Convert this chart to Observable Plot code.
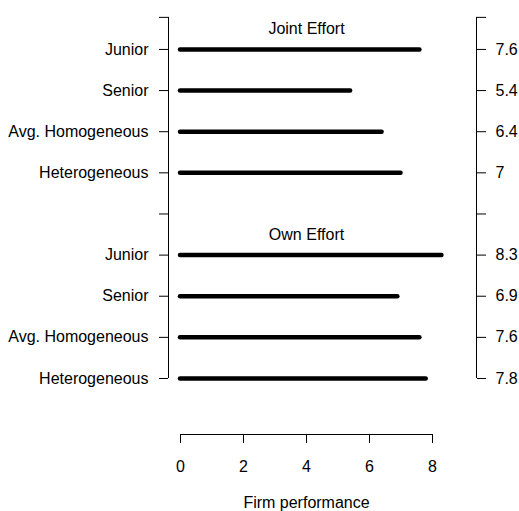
<!DOCTYPE html>
<html><head><meta charset="utf-8">
<script src="https://cdn.jsdelivr.net/npm/d3@7"></script>
<script src="https://cdn.jsdelivr.net/npm/@observablehq/plot@0.6"></script>
<style>body{margin:0;background:#fff}</style>
</head><body><div id="chart"></div>
<script>
const categories = ["Junior", "Senior", "Avg. Homogeneous", "Heterogeneous"];
const groups = ["Joint Effort", "Own Effort"];
const jointValues = [7.6, 5.4, 6.4, 7];
const ownValues = [8.3, 6.9, 7.6, 7.8];
const xTicks = [0, 2, 4, 6, 8];
const xLabel = "Firm performance";

// layout: row positions (bottom = 1)
const rows = [];
[jointValues, ownValues].forEach((vals, g) => {
  vals.forEach((v, i) => rows.push({group: groups[g], cat: categories[i], value: v, pos: (1 - g) * 5 + 4 - i}));
});
const headers = groups.map((g, gi) => ({text: g, pos: (1 - gi) * 5 + 4.5}));
const axisTop = 9.78;
const yTicks = [...rows.map(d => d.pos), 5, axisTop];
const leftLabel = new Map(rows.map(d => [d.pos, d.cat]));
const rightLabel = new Map(rows.map(d => [d.pos, String(d.value)]));

const xDom = [-12 / 31.5, 296 / 31.5];
const yDom = [-0.3617, 10.19];

const chart = Plot.plot({
  width: 519,
  height: 511,
  marginLeft: 168,
  marginRight: 43,
  marginTop: 0,
  marginBottom: 77,
  style: {fontSize: "16px", fontFamily: "'Liberation Sans', Arial, Helvetica, sans-serif", background: "#fff", color: "#000"},
  x: {domain: xDom},
  y: {domain: yDom},
  marks: [
    Plot.axisY(yTicks, {anchor: "left", tickSize: 9, tickPadding: 11, tickFormat: d => leftLabel.get(d) ?? "", label: null}),
    Plot.axisY(yTicks, {anchor: "right", tickSize: 9, tickPadding: 10, tickFormat: d => rightLabel.get(d) ?? "", label: null}),
    Plot.axisX(xTicks, {anchor: "bottom", tickSize: 9, tickPadding: 17, tickFormat: d => String(d), label: null}),
    Plot.ruleX([xDom[0], xDom[1]], {x: d => d, y1: 1, y2: axisTop, stroke: "#000"}),
    Plot.ruleY([yDom[0]], {y: d => d, x1: xTicks[0], x2: xTicks[xTicks.length - 1], stroke: "#000"}),
    Plot.ruleY(rows, {y: "pos", x1: 0, x2: "value", stroke: "#000", strokeWidth: 4.5, strokeLinecap: "round"}),
    Plot.text(headers, {x: () => 4, y: "pos", text: "text", fill: "#000"}),
    Plot.text([xLabel], {x: () => 4, text: d => d, frameAnchor: "bottom", dy: 73, fill: "#000"})
  ]
});
document.getElementById("chart").appendChild(chart);
</script>
</body></html>
